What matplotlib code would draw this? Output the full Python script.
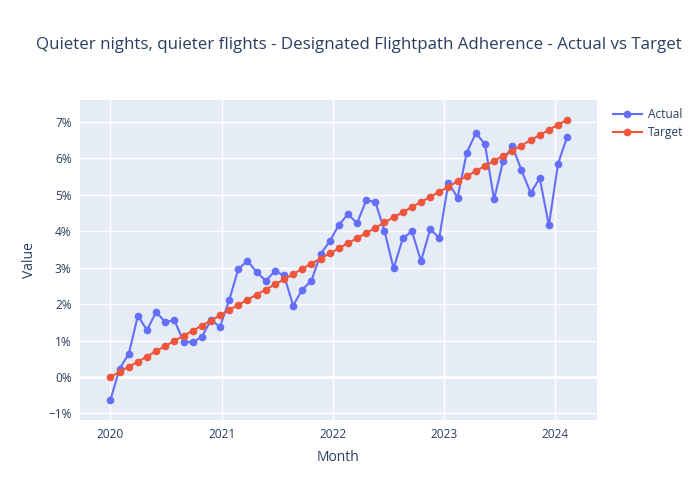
import numpy as np
import pandas as pd
import matplotlib
matplotlib.use("Agg")
import matplotlib.pyplot as plt
import matplotlib.dates as mdates
from matplotlib.ticker import FuncFormatter

plt.rcParams['font.family'] = ['Open Sans', 'DejaVu Sans']

# Datos (en %)
months = pd.date_range('2020-01-01', periods=51, freq='30D')

actual = [-0.63, 0.23, 0.63, 1.68, 1.29, 1.78, 1.51, 1.56, 0.97, 0.95,
          1.10, 1.56, 1.38, 2.11, 2.96, 3.19, 2.88, 2.64, 2.90, 2.79,
          1.96, 2.40, 2.64, 3.37, 3.72, 4.17, 4.47, 4.22, 4.85, 4.80,
          4.01, 2.98, 3.80, 4.00, 3.18, 4.05, 3.82, 5.33, 4.92, 6.15,
          6.69, 6.39, 4.87, 5.94, 6.33, 5.67, 5.05, 5.45, 4.16, 5.85,
          6.59]

target = [0.00, 0.14, 0.28, 0.42, 0.56, 0.71, 0.85, 0.99, 1.13, 1.27,
          1.41, 1.55, 1.69, 1.84, 1.98, 2.12, 2.26, 2.40, 2.54, 2.68,
          2.82, 2.97, 3.11, 3.25, 3.39, 3.53, 3.67, 3.81, 3.95, 4.09,
          4.24, 4.38, 4.52, 4.66, 4.80, 4.94, 5.08, 5.22, 5.37, 5.51,
          5.65, 5.79, 5.93, 6.07, 6.21, 6.35, 6.50, 6.64, 6.78, 6.92,
          7.06]

text_col = '#2a3f5f'
fig = plt.figure(figsize=(7, 5), dpi=100)
ax = fig.add_axes([80 / 700, 80 / 500, 517 / 700, 320 / 500])
ax.set_facecolor('#E5ECF6')

ax.plot(months, actual, '-o', color='#636efa', lw=1.5, ms=4.5, label='Actual', zorder=3)
ax.plot(months, target, '-o', color='#EF553B', lw=1.5, ms=4.5, label='Target', zorder=3)

ax.set_ylim(-1.18, 7.6)
ax.set_xlim(pd.Timestamp('2019-09-23'), pd.Timestamp('2024-05-17'))
ax.set_yticks(range(-1, 8))
ax.yaxis.set_major_formatter(FuncFormatter(lambda v, p: f'{v:.0f}%'.replace('-', '\u2212')))
ax.xaxis.set_major_locator(mdates.YearLocator())
ax.xaxis.set_major_formatter(mdates.DateFormatter('%Y'))

ax.grid(True, color='white', lw=1, zorder=0)
ax.axhline(0, color='white', lw=2, zorder=1)
ax.set_axisbelow(True)
for s in ax.spines.values():
    s.set_visible(False)
ax.tick_params(length=0, labelsize=8.6, labelcolor=text_col, pad=6)

ax.set_xlabel('Month', fontsize=10, color=text_col, labelpad=6)
ax.set_ylabel('Value', fontsize=10, color=text_col, labelpad=8)

fig.text(359 / 700, 1 - 45 / 500, 'Quieter nights, quieter flights - Designated Flightpath Adherence - Actual vs Target',
         ha='center', va='center', fontsize=12.2, color=text_col)

leg = ax.legend(loc='upper left', bbox_to_anchor=(1.022, 0.99), frameon=False,
                fontsize=8.6, labelcolor=text_col, handlelength=2.4, borderaxespad=0,
                handletextpad=0.5, labelspacing=0.45)

fig.savefig('out.png', dpi=100)
